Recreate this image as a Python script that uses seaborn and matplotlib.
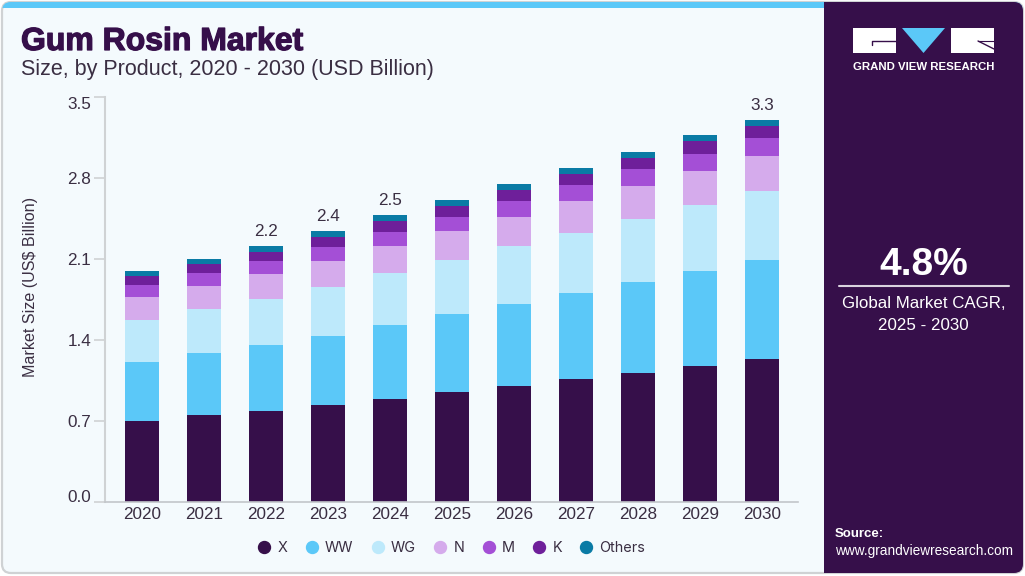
import pandas as pd
import seaborn as sns
import matplotlib.pyplot as plt
import matplotlib.patheffects as pe
from matplotlib.lines import Line2D
from matplotlib.patches import FancyBboxPatch, Polygon, Rectangle

# values
years = ['2020', '2021', '2022', '2023', '2024', '2025', '2026', '2027', '2028', '2029', '2030']
x_vals = [0.696, 0.748, 0.782, 0.834, 0.886, 0.946, 0.998, 1.059, 1.111, 1.171, 1.232]
ww_vals = [0.510, 0.536, 0.570, 0.596, 0.640, 0.674, 0.709, 0.743, 0.787, 0.821, 0.856]
wg_vals = [0.363, 0.380, 0.398, 0.424, 0.449, 0.467, 0.501, 0.519, 0.545, 0.570, 0.596]
n_vals = [0.199, 0.199, 0.216, 0.225, 0.233, 0.251, 0.251, 0.277, 0.285, 0.294, 0.303]
m_vals = [0.104, 0.112, 0.112, 0.121, 0.121, 0.121, 0.138, 0.138, 0.147, 0.147, 0.156]
k_vals = [0.078, 0.078, 0.078, 0.086, 0.095, 0.095, 0.095, 0.095, 0.095, 0.112, 0.104]
others_vals = [0.043, 0.048, 0.052, 0.052, 0.052, 0.056, 0.056, 0.056, 0.052, 0.052, 0.056]
y_ticks = [0.0, 0.7, 1.4, 2.1, 2.8, 3.5]
total_labels = {'2022': '2.2', '2023': '2.4', '2024': '2.5', '2030': '3.3'}

series = {'X': x_vals, 'WW': ww_vals, 'WG': wg_vals, 'N': n_vals,
          'M': m_vals, 'K': k_vals, 'Others': others_vals}
colors = {'X': '#360F4A', 'WW': '#5BC8F8', 'WG': '#BDE9FB', 'N': '#D5ABEC',
          'M': '#A44FD6', 'K': '#6E1F9A', 'Others': '#0A7BA5'}

df = pd.DataFrame(series, index=years)
df.index.name = 'Year'
totals = df.sum(axis=1)
bottoms = df.cumsum(axis=1).shift(1, axis=1).fillna(0)

sns.set_theme(style='white')
plt.rcParams['font.family'] = ['Liberation Sans', 'DejaVu Sans']

TEXT = '#3A2E42'
DARK = '#360F4A'

W, H = 1025, 576
fig = plt.figure(figsize=(W / 100, H / 100), dpi=100, facecolor='white')

# background card, drawn in pixel coordinates
bg = fig.add_axes([0, 0, 1, 1], zorder=0)
bg.set_xlim(0, W)
bg.set_ylim(H, 0)
bg.axis('off')

card = FancyBboxPatch((2, 2), W - 4, H - 5, boxstyle='round,pad=0,rounding_size=9',
                      facecolor='#F4FAFD', edgecolor='#CFD2D4', linewidth=1.6)
bg.add_patch(card)
strip = Rectangle((0, 0), W, 8, facecolor='#5BC8F8', edgecolor='none')
panel = Rectangle((824, 0), W - 824, H, facecolor=DARK, edgecolor='none')
for p in (strip, panel):
    bg.add_patch(p)
    p.set_clip_path(card)

# logo
bg.add_patch(Rectangle((853, 28), 43, 25, facecolor='white', edgecolor='none'))
bg.add_patch(Polygon([(902, 28), (945, 28), (923.5, 53)], facecolor='#5BC8F8', edgecolor='none'))
bg.add_patch(Rectangle((951, 28), 43, 25, facecolor='white', edgecolor='none'))
bg.plot([872, 872, 896], [45, 41, 41], color=DARK, lw=1)
bg.plot([978, 994], [41, 41], color=DARK, lw=0.8)
bg.plot([978, 994], [41, 49], color=DARK, lw=1)
bg.text(923.5, 67, 'GRAND VIEW RESEARCH', color='white', fontsize=8.2, fontweight='bold',
        ha='center', va='center')

# side panel text
bg.text(923.5, 265, '4.8%', color='white', fontsize=28, fontweight='bold', ha='center', va='center')
bg.plot([839, 1009], [285.5, 285.5], color='#DAD3DF', lw=1.5)
bg.text(923.5, 304, 'Global Market CAGR,', color='white', fontsize=12.2, ha='center', va='center')
bg.text(923.5, 325, '2025 - 2030', color='white', fontsize=12.2, ha='center', va='center')
bg.text(835, 534, 'Source:', color='white', fontsize=9.5, fontweight='bold', ha='left', va='center')
bg.text(835, 550.5, 'www.grandviewresearch.com', color='white', fontsize=9.8, ha='left', va='center')

# titles
title = bg.text(21, 42, 'Gum Rosin Market', color=DARK, fontsize=23, fontweight='bold',
                ha='left', va='center')
title.set_path_effects([pe.withStroke(linewidth=0.9, foreground=DARK)])
bg.text(21, 69.5, 'Size, by Product, 2020 - 2030 (USD Billion)', color=TEXT, fontsize=15.5,
        ha='left', va='center')

# chart
ax = fig.add_axes([105 / W, 1 - 501.5 / H, 693 / W, 404.5 / H], zorder=1)
ax.patch.set_alpha(0)
for name in series:
    sns.barplot(x=years, y=df[name].values, bottom=bottoms[name].values, color=colors[name],
                width=0.548, saturation=1, linewidth=0, ax=ax)

ax.set_xlim(-0.597, 10.58)
ax.set_ylim(0, 3.5)
ax.set_yticks(y_ticks)
ax.set_yticklabels([f'{t:.1f}' for t in y_ticks], fontsize=12.3, color=TEXT)
ax.get_yticklabels()[0].set_va('baseline')
ax.get_yticklabels()[-1].set_va('top')
ax.tick_params(axis='y', left=True, length=8, width=1.2, color='#CFD2D4', pad=2)
ax.tick_params(axis='x', bottom=False, labelsize=12.3, labelcolor=TEXT, pad=-1.8)
ax.set_xlabel('')
ax.set_ylabel('Market Size (US$ Billion)', fontsize=11.6, color=TEXT, labelpad=21, y=0.53)
sns.despine(ax=ax)
ax.spines['left'].set_color('#CFD2D4')
ax.spines['left'].set_linewidth(1.5)
ax.spines['bottom'].set_color('#C2C6CA')
ax.spines['bottom'].set_linewidth(1.2)

for year, label in total_labels.items():
    ax.annotate(label, (years.index(year), totals[year]), xytext=(0, 5), textcoords='offset points',
                ha='center', va='bottom', fontsize=12.3, color=TEXT)

handles = [Line2D([], [], linestyle='none', marker='o', markersize=8.6, color=colors[name])
           for name in series]
ax.legend(handles, list(series), ncol=len(series), frameon=False, loc='center',
          bbox_to_anchor=(452 / W, 1 - 548 / H), bbox_transform=fig.transFigure,
          prop={'family': 'Inter', 'size': 10.4}, labelcolor=TEXT,
          handlelength=0.8, handletextpad=0.5, columnspacing=1.3)

fig.savefig('out.png', dpi=100)
